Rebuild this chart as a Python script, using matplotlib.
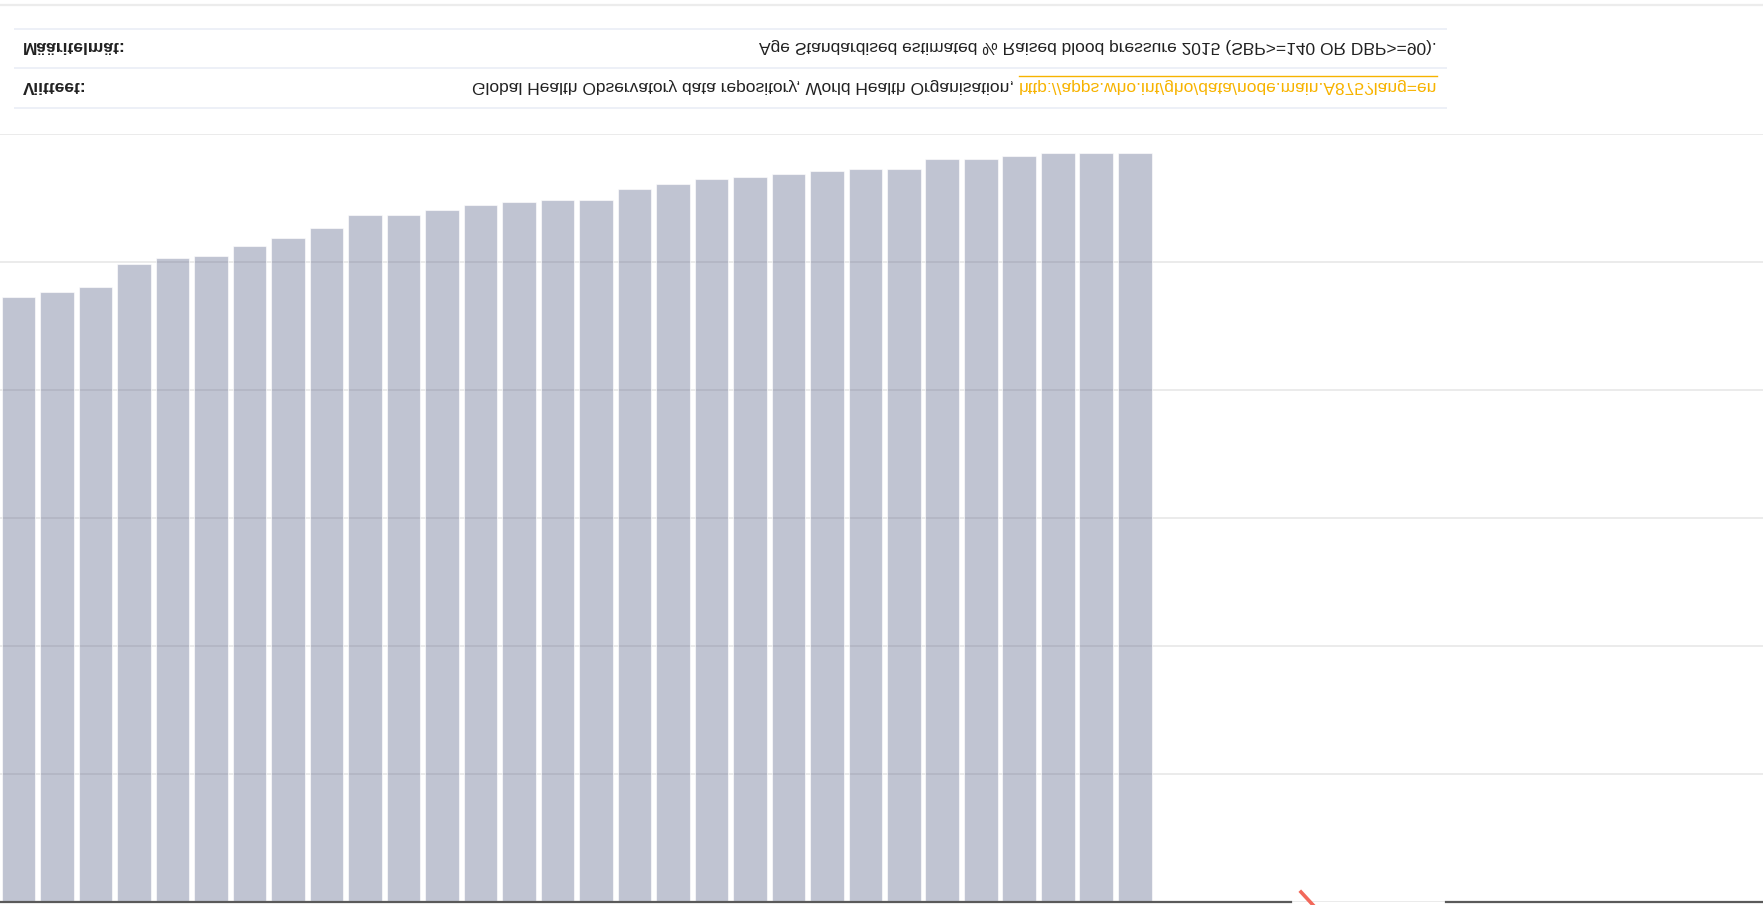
import matplotlib
matplotlib.use("Agg")
import matplotlib.pyplot as plt
import numpy as np

# Age standardised % raised blood pressure 2015, one bar per country (sorted)
values = [23.6, 23.8, 24.0, 24.9, 25.1, 25.2, 25.6, 25.9, 26.3, 26.8,
          26.8, 27.0, 27.2, 27.3, 27.4, 27.4, 27.8, 28.0, 28.2, 28.3,
          28.4, 28.5, 28.6, 28.6, 29.0, 29.0, 29.1, 29.2, 29.2, 29.2]
y_ticks = [0, 5, 10, 15, 20, 25, 30]

label_def = "Määritelmät:"
label_ref = "Viitteet:"
text_def = "Age Standardised estimated % Raised blood pressure 2015 (SBP>=140 OR DBP>=90)."
text_ref = "Global Health Observatory data repository, World Health Organisation, "
text_link = "http://apps.who.int/gho/data/node.main.A875?lang=en"

W, H = 1763, 905
plt.rcParams['font.family'] = ['Liberation Sans', 'DejaVu Sans']

# the page is laid out normally and the finished picture is flipped top to
# bottom at the end, so a row r from the top of out.png sits at r/H from the
# bottom of this figure
fig = plt.figure(figsize=(W / 100, H / 100), dpi=100)

def fy(r):
    return r / H

def fx(px):
    return px / W

ax = fig.add_axes([0, fy(134), 1, fy(902) - fy(134)])
x = np.arange(len(values))
ax.bar(x, values, width=0.876, color=(0.357, 0.392, 0.537, 0.38),
       edgecolor=(1, 1, 1, 0.6), linewidth=0.8, zorder=3)
ax.set_xlim(-0.482, 45.32)
ax.set_ylim(30, 0)
ax.set_yticks(y_ticks)
ax.grid(axis='y', color='#e9e9e9', linewidth=1.3, zorder=0)
ax.tick_params(left=False, bottom=False, labelleft=False, labelbottom=False)
for s in ax.spines.values():
    s.set_visible(False)

# baseline, broken where the logo sits
ax.plot([0, fx(1291)], [0, 0], color='#5a5a5a', lw=1.6,
        transform=ax.get_yaxis_transform(), clip_on=False, zorder=4)
ax.plot([fx(1446), 1], [0, 0], color='#5a5a5a', lw=1.6,
        transform=ax.get_yaxis_transform(), clip_on=False, zorder=4)
fig.add_artist(plt.Line2D([fx(1301), fx(1313)], [fy(892), fy(905)],
                          color='#f2685a', lw=2.6))

# lines of the info table
fig.add_artist(plt.Line2D([0, 1], [fy(5.5), fy(5.5)], color='#ececec', lw=1.6))
for r in [29, 68, 108]:
    fig.add_artist(plt.Line2D([fx(15), fx(1446)], [fy(r), fy(r)],
                              color='#edf0f7', lw=1.4))

fs = 12.5
fig.text(fx(23), fy(48), label_def, fontsize=fs, fontweight='bold',
         ha='left', va='center', color='#222222')
fig.text(fx(23), fy(88), label_ref, fontsize=fs, fontweight='bold',
         ha='left', va='center', color='#222222')
fig.text(fx(1437), fy(48), text_def, fontsize=fs, ha='right',
         va='center', color='#222222')
link = fig.text(fx(1437), fy(88), text_link, fontsize=fs, ha='right',
                va='center', color='#f7b300')

renderer = fig.canvas.get_renderer()
bb = link.get_window_extent(renderer=renderer)
fig.text(bb.x0 / W, fy(88), text_ref, fontsize=fs, ha='right', va='center',
         color='#222222')
fig.add_artist(plt.Line2D([bb.x0 / W, bb.x1 / W], [fy(77), fy(77)],
                          color='#f7b300', lw=1.0))

fig.savefig('out.png', dpi=100)
img = plt.imread('out.png')
plt.imsave('out.png', img[::-1])
